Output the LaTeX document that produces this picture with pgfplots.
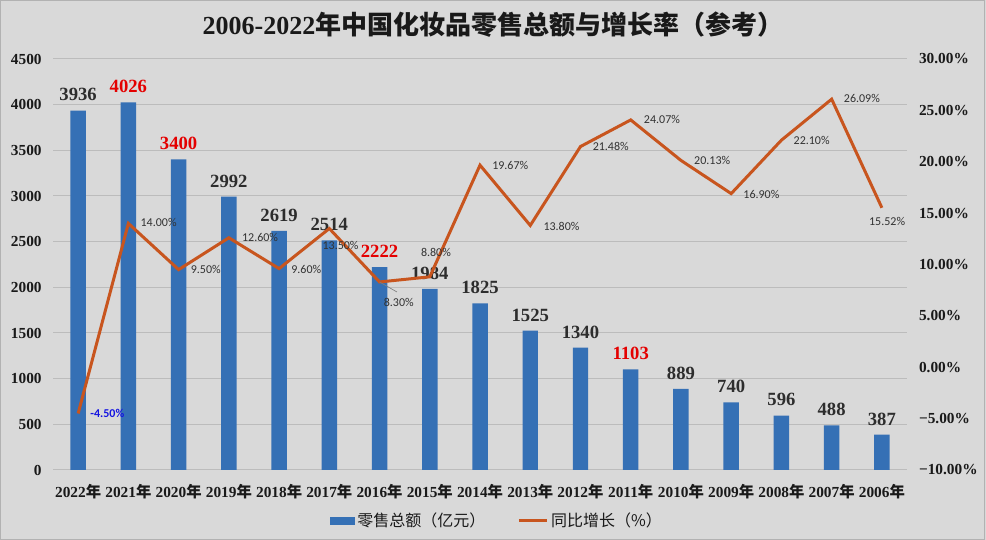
\documentclass[border=0pt]{standalone}
\usepackage{fontspec}
\setmainfont{Liberation Serif}
\newfontfamily\cjk{Noto Sans CJK SC}
\newfontfamily\lab{Carlito}
\usepackage{pgfplots}
\pgfplotsset{compat=1.18}
\definecolor{bg}{RGB}{217,217,217}
\definecolor{barblue}{RGB}{53,112,181}
\definecolor{lineor}{RGB}{200,85,30}
\definecolor{gridc}{RGB}{188,188,188}
\definecolor{txt}{RGB}{25,25,25}
\definecolor{lblc}{RGB}{45,45,45}
\definecolor{pctc}{RGB}{50,50,50}
\definecolor{redl}{RGB}{228,0,0}
\definecolor{bluel}{RGB}{20,20,225}
\newcommand\nian{{\cjk 年}}
\begin{document}
\begin{tikzpicture}
\fill[bg] (-39.75pt,-52.5pt) rectangle (699.75pt,352.5pt);
\draw[gray!60, line width=0.75pt] (-39.4pt,-52.1pt) rectangle (698.5pt,352.1pt);
\useasboundingbox (-39.75pt,-52.5pt) rectangle (699.75pt,352.5pt);
\node[font=\fontsize{19.5}{22}\selectfont\bfseries, text=txt] at (330pt,333.75pt) {2006-2022{\cjk 年中国化妆品零售总额与增长率（参考）}};
\begin{axis}[
  scale only axis, width=640.5pt, height=308.25pt,
  xmin=-0.5, xmax=16.5, ymin=0, ymax=4500,
  ybar, bar width=11.6pt,
  axis line style={draw=none}, tick style={draw=none},
  ymajorgrids, grid style={gridc, line width=0.75pt},
  ytick={0,500,...,4500},
  yticklabels={0,500,1000,1500,2000,2500,3000,3500,4000,4500},
  xtick={0,...,16},
  xticklabels={2022\nian,2021\nian,2020\nian,2019\nian,2018\nian,2017\nian,2016\nian,2015\nian,2014\nian,2013\nian,2012\nian,2011\nian,2010\nian,2009\nian,2008\nian,2007\nian,2006\nian},
  ticklabel style={font=\fontsize{11.5}{13}\selectfont\bfseries, text=txt},
  yticklabel style={xshift=-5pt},
  xticklabel style={yshift=-3pt},
  legend style={at={(0.52,-0.124)}, anchor=center, draw=none, fill=none, legend columns=2,
    font=\cjk\fontsize{12}{14}\selectfont, text=txt,
    /tikz/every even column/.append style={column sep=22pt}},
]
\addplot[fill=barblue, draw=none,
  nodes near coords=\pgfplotspointmeta, point meta=explicit symbolic,
  nodes near coords style={font=\fontsize{14}{16}\selectfont\bfseries, text=lblc, yshift=3.5pt},
  legend image code/.code={\fill[barblue] (0pt,-3pt) rectangle (18.75pt,3pt);}]
coordinates {(0,3936)[3936] (1,4026)[\textcolor{redl}{4026}] (2,3400)[\textcolor{redl}{3400}] (3,2992)[2992] (4,2619)[2619] (5,2514)[2514] (6,2222)[\textcolor{redl}{2222}] (7,1984)[1984] (8,1825)[1825] (9,1525)[1525] (10,1340)[1340] (11,1103)[\textcolor{redl}{1103}] (12,889)[889] (13,740)[740] (14,596)[596] (15,488)[488] (16,387)[387]};
\addlegendentry{零售总额（亿元）}
\addlegendimage{legend image code/.code={\draw[lineor, line width=2.25pt] (0pt,0pt) -- (21pt,0pt);}}
\addlegendentry{同比增长（\%）}
\end{axis}
\begin{axis}[
  scale only axis, width=640.5pt, height=308.25pt,
  xmin=-0.5, xmax=16.5, ymin=-10, ymax=30,
  axis x line=none, axis y line*=right,
  y axis line style={draw=none}, ytick style={draw=none},
  ytick={-10,-5,...,30},
  yticklabels={−10.00\%,−5.00\%,0.00\%,5.00\%,10.00\%,15.00\%,20.00\%,25.00\%,30.00\%},
  yticklabel style={font=\fontsize{11.5}{13}\selectfont\bfseries, text=txt, xshift=5.5pt},
]
\addplot[lineor, line width=2.25pt, mark=none, line join=miter]
coordinates {(0,-4.5) (1,14.0) (2,9.5) (3,12.6) (4,9.6) (5,13.5) (6,8.3) (7,8.8) (8,19.67) (9,13.8) (10,21.48) (11,24.07) (12,20.13) (13,16.9) (14,22.1) (15,26.09) (16,15.52)};
\draw[gray, line width=0.5pt] (axis cs:6,8.3) -- ++(13pt,-7.5pt);
\begin{scope}[every node/.style={inner sep=0pt, anchor=west, font=\lab\fontsize{9}{10}\selectfont, text=pctc}]
\node[text=bluel, font=\lab\bfseries\fontsize{9}{10}\selectfont, xshift=9pt] at (axis cs:0,-4.5) {-4.50\%};
\node[xshift=9pt, yshift=0.75pt] at (axis cs:1,14.0) {14.00\%};
\node[xshift=9pt] at (axis cs:2,9.5) {9.50\%};
\node[xshift=9.75pt] at (axis cs:3,12.6) {12.60\%};
\node[xshift=9pt, yshift=-0.75pt] at (axis cs:4,9.6) {9.60\%};
\node[xshift=-5.25pt, yshift=-13pt] at (axis cs:5,13.5) {13.50\%};
\node[xshift=3pt, yshift=-15pt] at (axis cs:6,8.3) {8.30\%};
\node[xshift=-6.75pt, yshift=18pt] at (axis cs:7,8.8) {8.80\%};
\node[xshift=9pt] at (axis cs:8,19.67) {19.67\%};
\node[xshift=9.75pt, yshift=-0.4pt] at (axis cs:9,13.8) {13.80\%};
\node[xshift=9pt] at (axis cs:10,21.48) {21.48\%};
\node[xshift=9.75pt] at (axis cs:11,24.07) {24.07\%};
\node[xshift=9.75pt] at (axis cs:12,20.13) {20.13\%};
\node[xshift=9pt, yshift=-0.75pt] at (axis cs:13,16.9) {16.90\%};
\node[xshift=9pt] at (axis cs:14,22.1) {22.10\%};
\node[xshift=9pt, yshift=0.75pt] at (axis cs:15,26.09) {26.09\%};
\node[xshift=-9.75pt, yshift=-10.5pt] at (axis cs:16,15.52) {15.52\%};
\end{scope}
\end{axis}
\end{tikzpicture}
\end{document}
